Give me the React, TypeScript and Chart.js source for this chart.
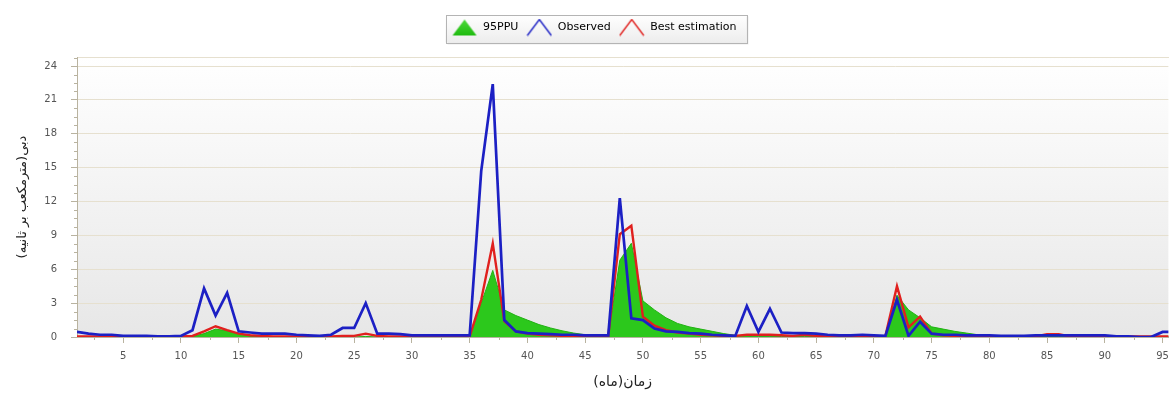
import React, { useEffect, useRef } from 'react';
import { Chart, registerables } from 'chart.js';

Chart.register(...registerables);

const months = [
  1, 2, 3, 4, 5, 6, 7, 8, 9, 10, 11, 12, 13, 14, 15, 16, 17, 18, 19, 20,
  21, 22, 23, 24, 25, 26, 27, 28, 29, 30, 31, 32, 33, 34, 35, 36, 37, 38, 39, 40,
  41, 42, 43, 44, 45, 46, 47, 48, 49, 50, 51, 52, 53, 54, 55, 56, 57, 58, 59, 60,
  61, 62, 63, 64, 65, 66, 67, 68, 69, 70, 71, 72, 73, 74, 75, 76, 77, 78, 79, 80,
  81, 82, 83, 84, 85, 86, 87, 88, 89, 90, 91, 92, 93, 94, 95, 96,
];

const observed = [
  0.45, 0.3, 0.2, 0.2, 0.1, 0.1, 0.1, 0.05, 0.05, 0.1,
  0.6, 4.3, 1.9, 3.9, 0.5, 0.4, 0.3, 0.3, 0.3, 0.2,
  0.15, 0.1, 0.2, 0.8, 0.8, 3.0, 0.3, 0.3, 0.25, 0.15,
  0.15, 0.15, 0.15, 0.15, 0.15, 14.7, 22.4, 1.5, 0.5, 0.35,
  0.3, 0.25, 0.2, 0.2, 0.15, 0.15, 0.15, 12.3, 1.65, 1.5,
  0.75, 0.5, 0.45, 0.35, 0.3, 0.2, 0.15, 0.1, 2.75, 0.45,
  2.5, 0.4, 0.35, 0.35, 0.3, 0.2, 0.15, 0.15, 0.2, 0.15,
  0.1, 3.3, 0.1, 1.35, 0.3, 0.2, 0.2, 0.15, 0.15, 0.15,
  0.1, 0.1, 0.1, 0.15, 0.15, 0.15, 0.15, 0.15, 0.15, 0.15,
  0.05, 0.05, 0.0, 0.0, 0.45, 0.45,
];

const bestEstimation = [
  0.05, 0.05, 0.05, 0.05, 0.05, 0.05, 0.05, 0.05, 0.05, 0.05,
  0.1, 0.5, 0.95, 0.6, 0.3, 0.15, 0.1, 0.05, 0.05, 0.05,
  0.05, 0.05, 0.05, 0.1, 0.1, 0.3, 0.1, 0.05, 0.05, 0.05,
  0.05, 0.05, 0.05, 0.05, 0.05, 3.3, 8.3, 1.4, 0.5, 0.3,
  0.2, 0.15, 0.1, 0.1, 0.05, 0.05, 0.05, 9.1, 9.85, 1.8,
  1.0, 0.6, 0.4, 0.3, 0.2, 0.15, 0.1, 0.1, 0.2, 0.2,
  0.2, 0.15, 0.1, 0.2, 0.1, 0.05, 0.05, 0.05, 0.05, 0.05,
  0.1, 4.5, 0.85, 1.8, 0.3, 0.15, 0.1, 0.05, 0.05, 0.05,
  0.05, 0.05, 0.05, 0.05, 0.25, 0.25, 0.05, 0.05, 0.05, 0.05,
  0.05, 0.05, 0.05, 0.05, 0.05, 0.05,
];

const ppu95 = [
  0, 0, 0, 0, 0, 0, 0, 0, 0, 0,
  0.05, 0.3, 0.7, 0.55, 0.3, 0.1, 0, 0, 0, 0,
  0, 0, 0, 0, 0, 0.05, 0, 0, 0, 0,
  0, 0, 0, 0, 0, 3.0, 5.9, 2.4, 1.9, 1.5,
  1.1, 0.8, 0.55, 0.35, 0.2, 0.1, 0.05, 6.8, 8.3, 3.2,
  2.4, 1.7, 1.2, 0.9, 0.7, 0.5, 0.3, 0.15, 0.1, 0.05,
  0.05, 0.05, 0.05, 0.05, 0.05, 0.05, 0.05, 0.05, 0.05, 0.05,
  0.05, 3.7, 2.4, 1.7, 0.9, 0.7, 0.5, 0.35, 0.2, 0.1,
  0.05, 0.05, 0.05, 0.05, 0.05, 0.05, 0.05, 0.05, 0.05, 0.05,
  0.05, 0.05, 0.05, 0.05, 0.05, 0.05,
];

const legendLabels = ['95PPU', 'Observed', 'Best estimation'];
// "زمان(ماه)" and "دبی(مترمکعب بر ثانیه)" written with Arabic presentation forms
// so that the letters join even where the text shaper does not join them.
const xTitle = '\uFEAF\uFEE3\uFE8E\uFEE5(\uFEE3\uFE8E\uFEE9)';
const yTitle = '\uFEA9\uFE91\uFBFD(\uFEE3\uFE98\uFEAE\uFEE3\uFB91\uFECC\uFE90 \uFE91\uFEAE \uFE9B\uFE8E\uFEE7\uFBFF\uFEEA)';

const GREEN = '#2cc81c';
const BLUE = '#1c20c4';
const RED = '#e0201e';
const AXIS = '#b9b3a0';
const GRID = '#e6e0cf';
const FONT = 'DejaVu Sans';

function makeIcon(kind: 'fill' | 'line', color: string): HTMLCanvasElement {
  const c = document.createElement('canvas');
  c.width = 26;
  c.height = 18;
  const g = c.getContext('2d')!;
  g.beginPath();
  g.moveTo(1, 17);
  g.lineTo(13, 1);
  g.lineTo(25, 17);
  if (kind === 'fill') {
    g.closePath();
    const gr = g.createLinearGradient(0, 0, 0, 18);
    gr.addColorStop(0, '#4fdc3c');
    gr.addColorStop(1, '#1cb80c');
    g.fillStyle = gr;
    g.fill();
  } else {
    g.strokeStyle = color;
    g.lineWidth = 1.4;
    g.stroke();
  }
  return c;
}

const decorPlugin = {
  id: 'decor',
  beforeDraw(chart: any) {
    const { ctx, chartArea: a } = chart;
    ctx.save();
    const g = ctx.createLinearGradient(0, a.top, 0, a.bottom);
    g.addColorStop(0, '#ffffff');
    g.addColorStop(1, '#e7e7e7');
    ctx.fillStyle = g;
    ctx.fillRect(a.left, a.top, a.right - a.left, a.bottom - a.top);

    const lg = chart.legend;
    if (lg && lg.legendHitBoxes && lg.legendHitBoxes.length) {
      const hb = lg.legendHitBoxes;
      const l = Math.min(...hb.map((h: any) => h.left)) - 6;
      const r = Math.max(...hb.map((h: any) => h.left + h.width)) + 10;
      const t = lg.top + 0.5;
      const b = lg.bottom - 0.5;
      ctx.fillStyle = 'rgba(0,0,0,0.08)';
      ctx.fillRect(l + 2, t + 2, r - l, b - t);
      const lgG = ctx.createLinearGradient(0, t, 0, b);
      lgG.addColorStop(0, '#ffffff');
      lgG.addColorStop(1, '#ededed');
      ctx.fillStyle = lgG;
      ctx.fillRect(l, t, r - l, b - t);
      ctx.strokeStyle = '#b4b4b4';
      ctx.lineWidth = 1;
      ctx.strokeRect(Math.round(l) + 0.5, Math.round(t) + 0.5, Math.round(r - l), Math.round(b - t));
    }
    ctx.restore();
  },
  afterDraw(chart: any) {
    const { ctx, chartArea: a, scales } = chart;
    const xs = scales.x;
    const ys = scales.y;
    ctx.save();
    ctx.strokeStyle = AXIS;
    ctx.lineWidth = 1;
    ctx.beginPath();
    for (let v = 2.5; v <= xs.max; v += 5) {
      const px = Math.round(xs.getPixelForValue(v)) + 0.5;
      ctx.moveTo(px, a.bottom);
      ctx.lineTo(px, a.bottom + 3);
    }
    for (let v = 0.75; v <= ys.max; v += 0.75) {
      if (Math.abs(v / 3 - Math.round(v / 3)) < 1e-6) continue;
      const py = Math.round(ys.getPixelForValue(v)) + 0.5;
      ctx.moveTo(a.left - 3, py);
      ctx.lineTo(a.left, py);
    }
    ctx.stroke();
    ctx.restore();
  },
};

export default function App() {
  const ref = useRef<HTMLCanvasElement>(null);

  useEffect(() => {
    const canvas = ref.current;
    if (!canvas) return;
    const icons = [makeIcon('fill', GREEN), makeIcon('line', BLUE), makeIcon('line', RED)];
    const toPts = (vals: number[]) => months.map((m, i) => ({ x: m, y: vals[i] }));

    const chart = new Chart(canvas, {
      type: 'line',
      data: {
        datasets: [
          {
            label: legendLabels[0],
            data: toPts(ppu95),
            fill: 'origin',
            backgroundColor: GREEN,
            borderColor: '#22b214',
            borderWidth: 1,
            pointRadius: 0,
            tension: 0,
            order: 3,
          },
          {
            label: legendLabels[1],
            data: toPts(observed),
            fill: false,
            borderColor: BLUE,
            borderWidth: 2.7,
            pointRadius: 0,
            tension: 0,
            order: 1,
          },
          {
            label: legendLabels[2],
            data: toPts(bestEstimation),
            fill: false,
            borderColor: RED,
            borderWidth: 2.4,
            pointRadius: 0,
            tension: 0,
            order: 2,
          },
        ],
      },
      options: {
        responsive: false,
        animation: false,
        devicePixelRatio: 1,
        layout: { padding: { top: 14, left: 12, right: 0, bottom: 0 } },
        plugins: {
          tooltip: { enabled: false },
          legend: {
            display: true,
            position: 'top',
            align: 'center',
            labels: {
              usePointStyle: true,
              pointStyleWidth: 26,
              boxHeight: 11,
              padding: 8,
              color: '#222',
              font: { family: FONT, size: 11 },
              generateLabels: () =>
                legendLabels.map((t, i) => ({
                  text: t,
                  pointStyle: icons[i] as any,
                  fillStyle: 'transparent',
                  strokeStyle: 'transparent',
                  lineWidth: 0,
                  hidden: false,
                  datasetIndex: i,
                })),
            },
          },
        },
        scales: {
          x: {
            type: 'linear',
            position: 'bottom',
            min: 1,
            max: 95.5,
            ticks: {
              stepSize: 5,
              includeBounds: false,
              color: '#555',
              font: { family: FONT, size: 10 },
              padding: 7,
              maxRotation: 0,
              autoSkip: false,
            },
            grid: { drawOnChartArea: false, drawTicks: true, tickLength: 6, color: AXIS },
            border: { display: true, color: AXIS, width: 1 },
            title: {
              display: true,
              text: xTitle,
              color: '#222',
              font: { family: FONT, size: 14 },
              padding: { top: 4, bottom: 10 },
            },
            afterFit: (s: any) => {
              s.height = 64;
            },
          },
          x2: {
            type: 'linear',
            position: 'top',
            min: 0,
            max: 1,
            ticks: { display: false },
            grid: { display: false },
            border: { display: true, color: GRID, width: 1 },
            afterFit: (s: any) => {
              s.height = 14;
            },
          },
          y: {
            type: 'linear',
            min: 0,
            max: 24.8,
            ticks: {
              stepSize: 3,
              includeBounds: false,
              color: '#555',
              font: { family: FONT, size: 10 },
              padding: 14,
            },
            grid: { color: GRID, tickColor: AXIS, tickLength: 6, lineWidth: 1 },
            border: { display: true, color: AXIS, width: 1 },
            title: {
              display: true,
              text: yTitle,
              color: '#222',
              font: { family: FONT, size: 13 },
              padding: { top: 3, bottom: 3 },
            },
            afterFit: (s: any) => {
              s.width = 65;
            },
          },
        },
      },
      plugins: [decorPlugin],
    } as any);

    return () => chart.destroy();
  }, []);

  return (
    <div style={{ position: 'fixed', left: 0, top: 0, width: 1176, height: 401, background: '#ffffff' }}>
      <canvas ref={ref} width={1176} height={401} style={{ display: 'block', width: 1176, height: 401 }} />
    </div>
  );
}
